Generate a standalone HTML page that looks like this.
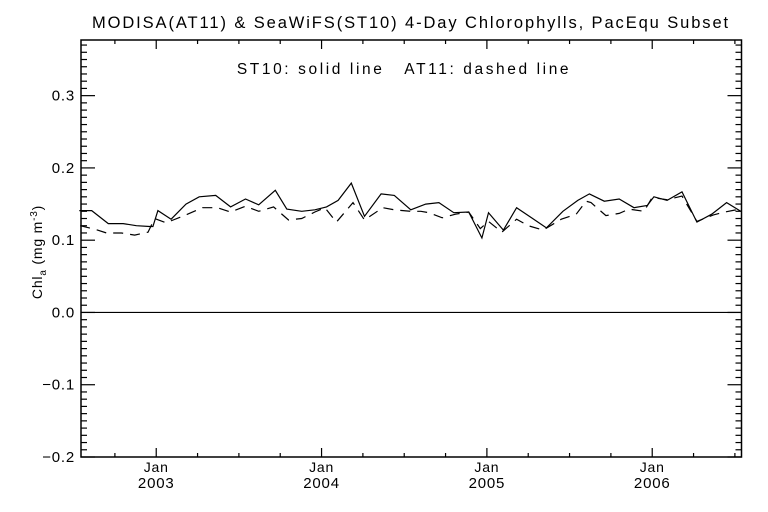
<!DOCTYPE html>
<html><head><meta charset="utf-8"><style>
html,body{margin:0;padding:0;background:#fff}
svg{display:block}
text{font-family:"Liberation Sans",sans-serif;fill:#000}
</style></head><body>
<svg id="chart" width="768" height="512" viewBox="0 0 768 512" xmlns="http://www.w3.org/2000/svg">
<text x="411" y="28" font-size="16.5" letter-spacing="1.9" text-anchor="middle">MODISA(AT11) &amp; SeaWiFS(ST10) 4-Day Chlorophylls, PacEqu Subset</text>
<text x="404" y="74" font-size="15.5" letter-spacing="2.6" text-anchor="middle" xml:space="preserve">ST10: solid line   AT11: dashed line</text>
<text transform="translate(42,252) rotate(-90)" font-size="14" letter-spacing="0.8" text-anchor="middle">Chl<tspan font-size="10" dy="4">a</tspan><tspan dy="-4"> (mg m</tspan><tspan font-size="10" dy="-5">-3</tspan><tspan dy="5">)</tspan></text>
<g id="axes"></g>
<g id="series"></g>
</svg>
<script>
const yTickValues=[-0.2,-0.1,0.0,0.1,0.2,0.3];
const yTickLabels=["-0.2","-0.1","0.0","0.1","0.2","0.3"];
const xYearLabels=["2003","2004","2005","2006"];
const st10Dates=[2002.535,2002.61,2002.71,2002.80,2002.88,2002.96,2002.98,2003.01,2003.09,2003.18,2003.26,2003.36,2003.45,2003.54,2003.62,2003.72,2003.79,2003.88,2003.96,2004.03,2004.10,2004.18,2004.26,2004.36,2004.44,2004.54,2004.63,2004.71,2004.80,2004.89,2004.97,2005.01,2005.10,2005.18,2005.27,2005.36,2005.46,2005.55,2005.62,2005.71,2005.80,2005.89,2005.97,2006.01,2006.09,2006.18,2006.27,2006.36,2006.45,2006.535];
const st10Values=[0.141,0.141,0.123,0.123,0.120,0.119,0.119,0.141,0.129,0.150,0.160,0.162,0.146,0.157,0.149,0.169,0.143,0.140,0.142,0.146,0.155,0.179,0.133,0.164,0.162,0.142,0.150,0.152,0.138,0.139,0.103,0.138,0.114,0.145,0.131,0.117,0.140,0.155,0.164,0.154,0.157,0.145,0.148,0.160,0.155,0.167,0.125,0.136,0.152,0.140];
const at11Dates=[2002.54,2002.63,2002.70,2002.79,2002.87,2002.95,2002.99,2003.06,2003.17,2003.28,2003.37,2003.45,2003.54,2003.62,2003.71,2003.80,2003.88,2003.96,2004.02,2004.09,2004.19,2004.26,2004.37,2004.44,2004.54,2004.60,2004.65,2004.73,2004.81,2004.89,2004.96,2005.01,2005.09,2005.18,2005.25,2005.34,2005.45,2005.54,2005.60,2005.63,2005.72,2005.80,2005.86,2005.95,2006.00,2006.09,2006.18,2006.27,2006.37,2006.44,2006.53];
const at11Values=[0.120,0.115,0.110,0.110,0.107,0.111,0.130,0.124,0.134,0.145,0.145,0.139,0.147,0.140,0.146,0.128,0.130,0.139,0.145,0.125,0.152,0.128,0.145,0.142,0.140,0.140,0.138,0.131,0.136,0.139,0.116,0.126,0.111,0.129,0.120,0.114,0.129,0.136,0.154,0.152,0.134,0.137,0.143,0.140,0.159,0.156,0.161,0.126,0.135,0.139,0.143];

const L=81,R=741.5,T=40,B=457;
const X0=2002.545,X1=2006.54,Y0=-0.2,Y1=0.377;
const xs=d=>L+(d-X0)/(X1-X0)*(R-L);
const ys=v=>B-(v-Y0)/(Y1-Y0)*(B-T);
const NS="http://www.w3.org/2000/svg";
const axes=document.getElementById('axes'),series=document.getElementById('series');
function mk(tag,attrs,parent){const e=document.createElementNS(NS,tag);for(const k in attrs)e.setAttribute(k,attrs[k]);parent.appendChild(e);return e;}

const frame=mk('rect',{x:L,y:T,width:R-L,height:B-T,fill:'none',stroke:'#000','stroke-width':1.5},axes);



for(let i=-20;i<=37;i++){
  const v=i/100,y=ys(v);const major=(i%10===0);const len=major?14:6;
  const t1=mk('line',{x1:L,x2:L+len,y1:y,y2:y,stroke:'#000','stroke-width':1.2},axes);
  
  
  const t2=mk('line',{x1:R,x2:R-len,y1:y,y2:y,stroke:'#000','stroke-width':1.2},axes);
  
  
}
yTickValues.forEach((v,i)=>{
  const t=mk('text',{x:L-6,y:ys(v)+5,'font-size':15,'letter-spacing':0.8,'text-anchor':'end'},axes);
  t.textContent=yTickLabels[i].replace('-','\u2212');
  
  
});
const z=mk('line',{x1:L,x2:R,y1:ys(0),y2:ys(0),stroke:'#000','stroke-width':1.2},axes);



for(let yr=2002;yr<=2007;yr++){
  for(let q=0;q<4;q++){
    const d=yr+q*0.25; if(d<X0||d>X1)continue;
    const x=xs(d),len=q===0?9:4;
    const a=mk('line',{x1:x,x2:x,y1:B,y2:B-len,stroke:'#000','stroke-width':1.2},axes);
    
    
    const b=mk('line',{x1:x,x2:x,y1:T,y2:T+len,stroke:'#000','stroke-width':1.2},axes);
    
    
  }
}
xYearLabels.forEach(lbl=>{
  const x=xs(parseInt(lbl));
  const m=mk('text',{x:x,y:B+15,'font-size':14,'letter-spacing':0.8,'text-anchor':'middle'},axes);
  m.textContent='Jan';
  
  
  const t=mk('text',{x:x,y:B+31,'font-size':15,'letter-spacing':0.8,'text-anchor':'middle'},axes);
  t.textContent=lbl;
  
  
});

function pts(ds,vs){return ds.map((d,i)=>xs(d).toFixed(1)+','+ys(vs[i]).toFixed(1)).join(' ');}
const s=mk('polyline',{points:pts(st10Dates,st10Values),fill:'none',stroke:'#000','stroke-width':1.2},series);


const a=mk('polyline',{points:pts(at11Dates,at11Values),fill:'none',stroke:'#000','stroke-width':1.2,'stroke-dasharray':'10,7'},series);


</script>
</body></html>
